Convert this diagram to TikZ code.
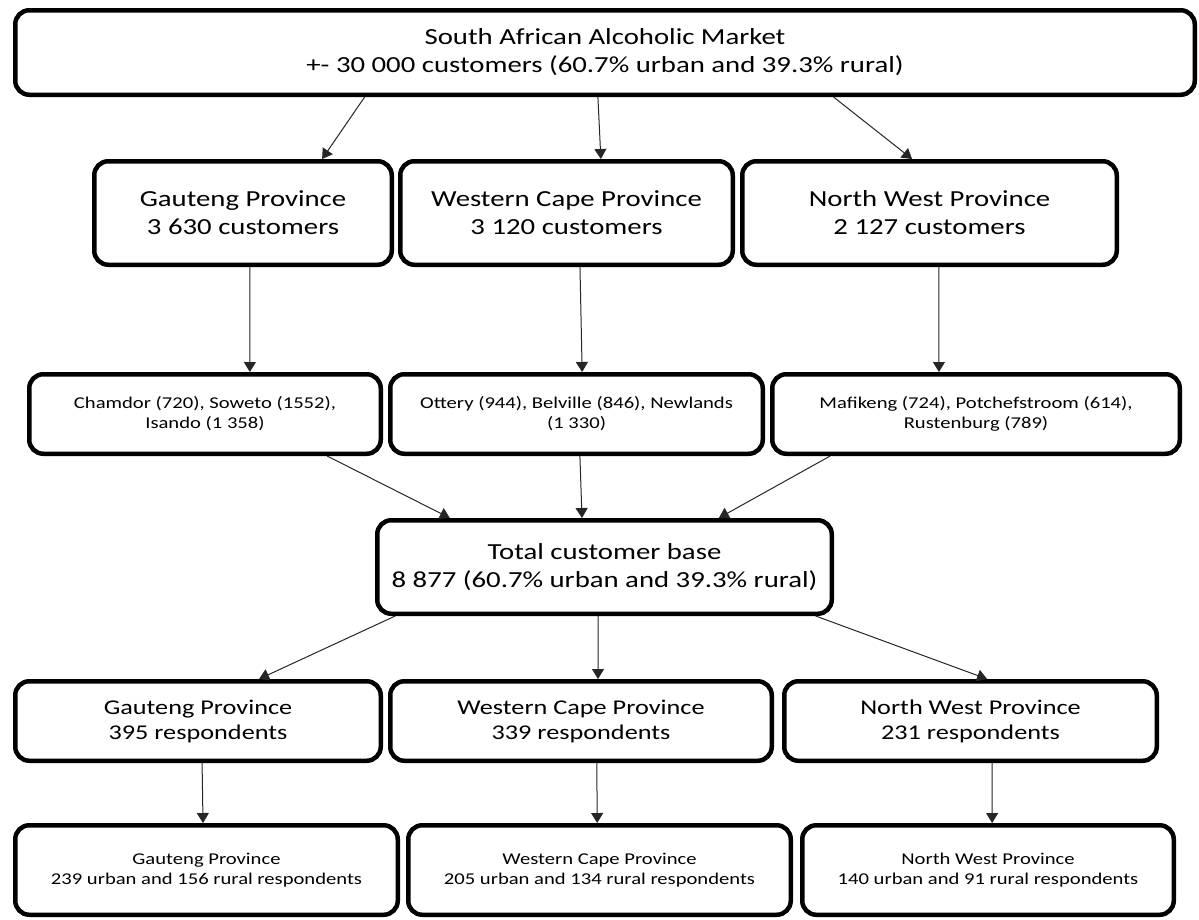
\documentclass[tikz,border=0pt]{standalone}
\usepackage{fontspec}
\setmainfont{Carlito}[FakeStretch=1.25]
\usetikzlibrary{arrows.meta,calc}
\tikzset{
  box/.style={draw=black, line width=4.5pt, rounded corners=14pt, align=center, inner sep=0pt, fill=white},
  big/.style={font=\fontsize{23}{28}\selectfont},
  mid/.style={font=\fontsize{21}{25}\selectfont},
  small/.style={font=\fontsize{16.5}{20}\selectfont},
  arr/.style={-{Triangle[length=10pt,width=12pt]}, line width=1pt, draw=black!85},
}
\newcommand{\bx}[7]{\node[box,#1,minimum width=#5pt-4.5pt,minimum height=#6pt-4.5pt] (#2) at (#3,#4) {#7};}
\begin{document}
\begin{tikzpicture}[x=1pt,y=-1pt]
\useasboundingbox (0,0) rectangle (1199,919);
\bx{big}{top}{605}{52.5}{1184}{89}{South African Alcoholic Market\\+- 30 000 customers (60.7\% urban and 39.3\% rural)}
\bx{big}{g2}{243}{213}{302}{108}{Gauteng Province\\3 630 customers}
\bx{big}{w2}{566.5}{213}{337}{108}{Western Cape Province\\3 120 customers}
\bx{big}{n2}{929.5}{213}{379}{108}{North West Province\\2 127 customers}
\bx{small}{g3}{205}{414}{356}{84}{Chamdor (720), Soweto (1552),\\Isando (1 358)}
\bx{small}{w3}{576.5}{414}{377}{84}{Ottery (944), Belville (846), Newlands\\(1 330)}
\bx{small}{n3}{976}{414}{412}{84}{Mafikeng (724), Potchefstroom (614),\\Rustenburg (789)}
\bx{big}{tot}{604.5}{567}{459}{98}{Total customer base\\8 877 (60.7\% urban and 39.3\% rural)}
\bx{mid}{g4}{198}{721}{370}{84}{Gauteng Province\\395 respondents}
\bx{mid}{w4}{581}{721}{386}{84}{Western Cape Province\\339 respondents}
\bx{mid}{n4}{970.5}{721}{377}{84}{North West Province\\231 respondents}
\bx{small}{g5}{206.5}{870}{387}{94}{Gauteng Province\\239 urban and 156 rural respondents}
\bx{small}{w5}{599.5}{870}{387}{94}{Western Cape Province\\205 urban and 134 rural respondents}
\bx{small}{n5}{988}{870}{376}{94}{North West Province\\140 urban and 91 rural respondents}
% top -> row 2
\draw[arr] ($(top.south west)!0.297!(top.south east)$) -- ($(g2.north west)!0.762!(g2.north east)$);
\draw[arr] ($(top.south west)!0.494!(top.south east)$) -- ($(w2.north west)!0.602!(w2.north east)$);
\draw[arr] ($(top.south west)!0.693!(top.south east)$) -- ($(n2.north west)!0.454!(n2.north east)$);
% row 2 -> row 3
\draw[arr] ($(g2.south west)!0.523!(g2.south east)$) -- ($(g3.north west)!0.626!(g3.north east)$);
\draw[arr] ($(w2.south west)!0.54!(w2.south east)$) -- ($(w3.north west)!0.515!(w3.north east)$);
\draw[arr] ($(n2.south west)!0.525!(n2.south east)$) -- ($(n3.north west)!0.41!(n3.north east)$);
% row 3 -> total
\draw[arr] ($(g3.south west)!0.843!(g3.south east)$) -- ($(tot.north west)!0.163!(tot.north east)$);
\draw[arr] ($(w3.south west)!0.509!(w3.south east)$) -- ($(tot.north west)!0.451!(tot.north east)$);
\draw[arr] ($(n3.south west)!0.146!(n3.south east)$) -- ($(tot.north west)!0.749!(tot.north east)$);
% total -> row 4
\draw[arr] ($(tot.south west)!0.044!(tot.south east)$) -- ($(g4.north west)!0.665!(g4.north east)$);
\draw[arr] ($(tot.south west)!0.486!(tot.south east)$) -- ($(w4.north west)!0.544!(w4.north east)$);
\draw[arr] ($(tot.south west)!0.96!(tot.south east)$) -- ($(n4.north west)!0.544!(n4.north east)$);
% row 4 -> row 5
\draw[arr] ($(g4.south west)!0.511!(g4.south east)$) -- ($(g5.north west)!0.491!(g5.north east)$);
\draw[arr] ($(w4.south west)!0.541!(w4.south east)$) -- ($(w5.north west)!0.494!(w5.north east)$);
\draw[arr] ($(n4.south west)!0.557!(n4.south east)$) -- ($(n5.north west)!0.511!(n5.north east)$);
\end{tikzpicture}
\end{document}
